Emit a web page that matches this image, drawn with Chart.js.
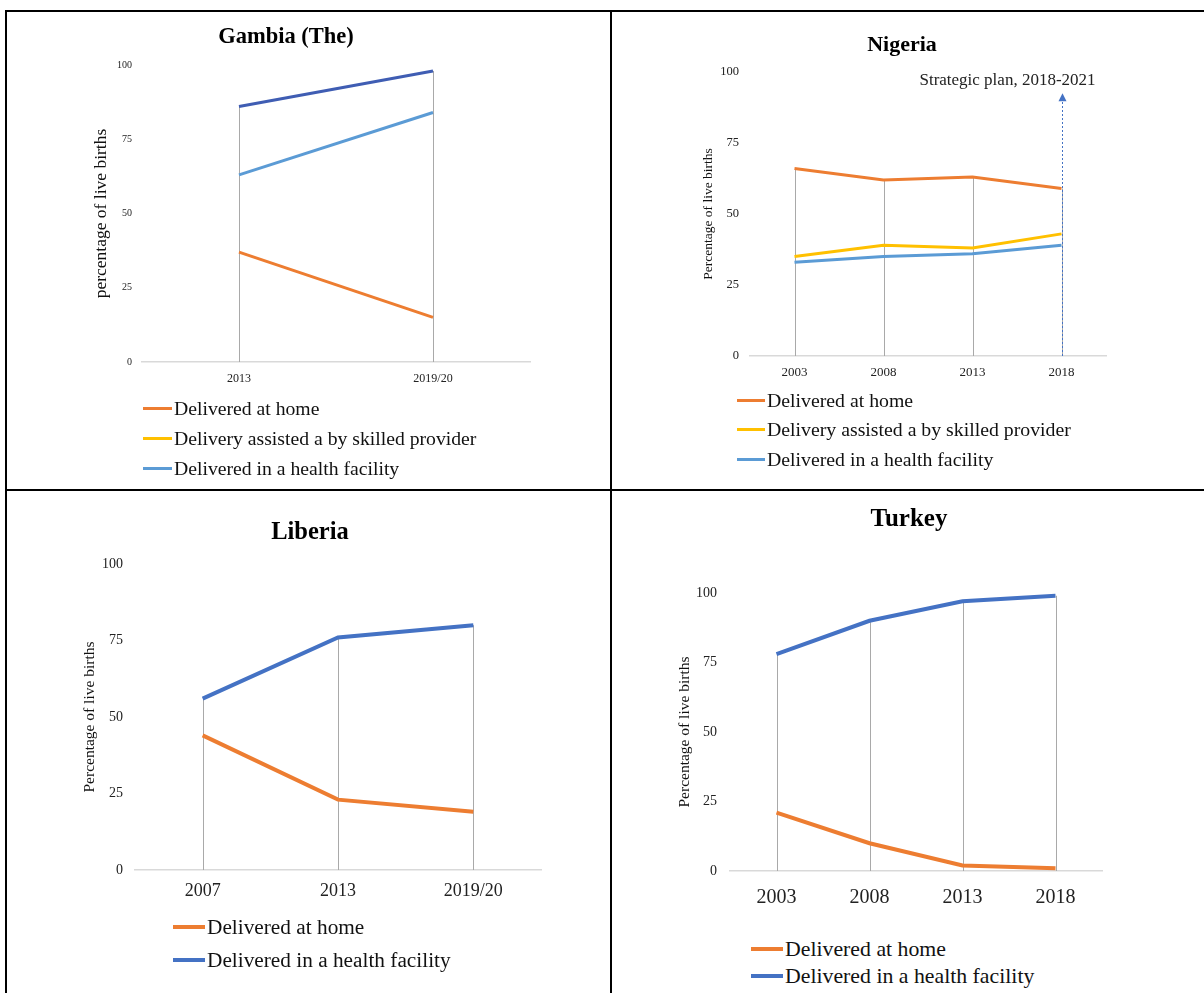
<!DOCTYPE html>
<html>
<head>
<meta charset="utf-8">
<title>Place of delivery</title>
<script src="https://cdn.jsdelivr.net/npm/chart.js@4.4.1/dist/chart.umd.min.js"></script>
<style>
  body { margin: 0; width: 1204px; height: 993px; background: #fff; position: relative; overflow: hidden;
         font-family: "Liberation Serif", "Times New Roman", serif; }
  .rule { position: absolute; background: #000; }
  canvas { position: absolute; }
  .legend { position: absolute; color: #111; white-space: nowrap; }
  .legend div { display: flex; align-items: center; }
  .legend span.swatch { display: inline-block; margin-right: 2px; }
</style>
</head>
<body>
<div class="rule" style="left:5px;top:10px;width:1199px;height:2px"></div>
<div class="rule" style="left:5px;top:10px;width:2px;height:983px"></div>
<div class="rule" style="left:610px;top:10px;width:2px;height:983px"></div>
<div class="rule" style="left:5px;top:489px;width:1199px;height:2px"></div>

<canvas id="gambia"></canvas>
<canvas id="nigeria"></canvas>
<canvas id="liberia"></canvas>
<canvas id="turkey"></canvas>
<div class="legend" id="gambia-legend"></div>
<div class="legend" id="nigeria-legend"></div>
<div class="legend" id="liberia-legend"></div>
<div class="legend" id="turkey-legend"></div>

<script>
// Data (percentage of live births)
const yTicks = [0, 25, 50, 75, 100];

const gambiaYears = ["2013", "2019/20"];
const gambiaHome = [37, 15];
const gambiaSkilled = [86, 98];
const gambiaFacility = [63, 84];

const nigeriaYears = ["2003", "2008", "2013", "2018"];
const nigeriaHome = [66, 62, 63, 59];
const nigeriaSkilled = [35, 39, 38, 43];
const nigeriaFacility = [33, 35, 36, 39];
const nigeriaPlanLabel = "Strategic plan, 2018-2021";
const nigeriaPlanYear = "2018";
const nigeriaPlanTop = 92.5;

const liberiaYears = ["2007", "2013", "2019/20"];
const liberiaHome = [44, 23, 19];
const liberiaFacility = [56, 76, 80];

const turkeyYears = ["2003", "2008", "2013", "2018"];
const turkeyHome = [21, 10, 2, 1];
const turkeyFacility = [78, 90, 97, 99];

const HOME = "Delivered at home";
const SKILLED = "Delivery assisted a by skilled provider";
const FACILITY = "Delivered in a health facility";

const ORANGE = "#ED7D31";
const YELLOW = "#FFC000";
const LIGHT_BLUE = "#5B9BD5";
const BLUE = "#4472C4";
const DARK_BLUE = "#3F5DB3";

const SERIF = "'Liberation Serif', 'Times New Roman', serif";
Chart.defaults.font.family = SERIF;

// vertical drop lines from the axis up to the highest series at each category
const dropLines = {
  id: "dropLines",
  beforeDatasetsDraw(chart) {
    const { ctx, scales: { x, y } } = chart;
    ctx.save();
    ctx.strokeStyle = "#A9A9A9";
    ctx.lineWidth = 1;
    chart.data.labels.forEach((lab, i) => {
      const top = Math.max(...chart.data.datasets.map((d) => d.data[i]));
      const px = Math.round(x.getPixelForValue(i)) + 0.5;
      ctx.beginPath();
      ctx.moveTo(px, y.getPixelForValue(0));
      ctx.lineTo(px, y.getPixelForValue(top));
      ctx.stroke();
    });
    ctx.restore();
  },
};

// dotted arrow + caption (Nigeria strategic plan)
const planMarker = {
  id: "planMarker",
  afterDatasetsDraw(chart, args, opts) {
    const { ctx, scales: { x, y } } = chart;
    const idx = chart.data.labels.indexOf(opts.year);
    if (idx < 0) return;
    const px = Math.round(x.getPixelForValue(idx)) + 0.5;
    const tip = y.getPixelForValue(opts.top);
    ctx.save();
    ctx.strokeStyle = opts.color;
    ctx.fillStyle = opts.color;
    ctx.lineWidth = 1;
    ctx.setLineDash([2, 2]);
    ctx.beginPath();
    ctx.moveTo(px, y.getPixelForValue(0));
    ctx.lineTo(px, tip + 8);
    ctx.stroke();
    ctx.setLineDash([]);
    ctx.beginPath();
    ctx.moveTo(px, tip);
    ctx.lineTo(px - 4, tip + 8);
    ctx.lineTo(px + 4, tip + 8);
    ctx.closePath();
    ctx.fill();
    ctx.fillStyle = "#222";
    ctx.font = "17px " + SERIF;
    ctx.textAlign = "center";
    ctx.textBaseline = "middle";
    ctx.fillText(opts.label, px - 55, tip - 13);
    ctx.restore();
  },
};

function buildChart(id, spec) {
  const a = spec.area;
  // y axis box must hold its tick labels (they are clipped to it)
  const yMinW = spec.yTickPad + 1.6 * spec.yTickSize + 2;
  const yBoxLeft = Math.min(2 * spec.titleX - a.r, a.l - yMinW);
  // spare box on the right keeps the title centred where the original has it
  const rightPad = 2 * spec.titleX - a.r - yBoxLeft;
  const boxLeft = Math.floor(Math.min(yBoxLeft, spec.yTitleX - spec.yTitleSize - 4));
  const padL = yBoxLeft - boxLeft;
  const boxTop = Math.floor(spec.titleY - 0.6 * spec.titleSize - 4);
  const padT = spec.titleY - 0.6 * spec.titleSize - boxTop;
  const xAxisH = 48;
  const boxW = Math.ceil(a.r + rightPad + 12 - boxLeft);
  const boxH = a.b + xAxisH - boxTop;

  const canvas = document.getElementById(id);
  canvas.width = boxW;
  canvas.height = boxH;
  canvas.style.left = boxLeft + "px";
  canvas.style.top = boxTop + "px";
  canvas.style.width = boxW + "px";
  canvas.style.height = boxH + "px";

  const scales = {
    x: {
      offset: true,
      grid: { display: false, drawTicks: false },
      border: { display: true, color: "#D9D9D9", width: 1.5 },
      ticks: {
        color: "#222",
        padding: spec.xTickPad,
        maxRotation: 0,
        autoSkip: false,
        font: { size: spec.xTickSize },
      },
      afterFit(scale) { scale.height = xAxisH; },
    },
    y: {
      min: 0,
      max: 100,
      afterBuildTicks(scale) { scale.ticks = yTicks.map((v) => ({ value: v })); },
      grid: { display: false, drawTicks: false },
      border: { display: false },
      ticks: { color: "#222", padding: spec.yTickPad, font: { size: spec.yTickSize } },
      title: {
        display: true,
        text: spec.yTitle,
        color: "#111",
        font: { size: spec.yTitleSize },
        padding: { top: spec.yTitleX - yBoxLeft - 0.6 * spec.yTitleSize, bottom: 0 },
      },
      afterFit(scale) { scale.width = a.l - yBoxLeft; },
    },
  };
  if (rightPad > 0) {
    scales.spare = {
      position: "right",
      grid: { display: false, drawTicks: false },
      border: { display: false },
      ticks: { display: false },
      afterFit(scale) { scale.width = rightPad; },
    };
  }

  const chart = new Chart(canvas, {
    type: "line",
    data: {
      labels: spec.labels,
      datasets: spec.series.map((s) => ({
        label: s.label,
        data: s.data,
        borderColor: s.color,
        backgroundColor: s.color,
        borderWidth: spec.lineWidth,
        pointRadius: 0,
        tension: 0,
        fill: false,
      })),
    },
    options: {
      responsive: false,
      animation: false,
      layout: { padding: { left: padL, right: boxLeft + boxW - a.r - rightPad, top: padT, bottom: 0 } },
      plugins: {
        legend: { display: false },
        tooltip: { enabled: false },
        title: {
          display: true,
          text: spec.title,
          color: "#000",
          font: { size: spec.titleSize, weight: "bold", family: SERIF },
          padding: { top: 0, bottom: a.t - spec.titleY - 0.6 * spec.titleSize },
        },
        planMarker: spec.plan || {},
      },
      scales: scales,
    },
    plugins: spec.plan ? [dropLines, planMarker] : [dropLines],
  });

  // legend, one entry per line, built from the same series list
  const lg = document.getElementById(id + "-legend");
  lg.style.left = spec.legend.x + "px";
  lg.style.top = spec.legend.y - spec.legend.step / 2 + "px";
  lg.style.fontSize = spec.legend.size + "px";
  spec.series.forEach((s) => {
    const row = document.createElement("div");
    row.style.height = spec.legend.step + "px";
    const sw = document.createElement("span");
    sw.className = "swatch";
    sw.style.width = spec.legend.swatch + "px";
    sw.style.height = spec.lineWidth + "px";
    sw.style.background = s.legendColor || s.color;
    const tx = document.createElement("span");
    tx.textContent = s.label;
    row.appendChild(sw);
    row.appendChild(tx);
    lg.appendChild(row);
  });
  return chart;
}

buildChart("gambia", {
  title: "Gambia (The)", titleX: 286, titleY: 37, titleSize: 22.5,
  area: { l: 142, r: 530, t: 65, b: 362 },
  labels: gambiaYears,
  series: [
    { label: HOME, data: gambiaHome, color: ORANGE },
    { label: SKILLED, data: gambiaSkilled, color: DARK_BLUE, legendColor: YELLOW },
    { label: FACILITY, data: gambiaFacility, color: LIGHT_BLUE },
  ],
  lineWidth: 3,
  yTitle: "percentage of live births", yTitleX: 101, yTitleSize: 17.5,
  yTickSize: 10, yTickPad: 10, xTickSize: 12, xTickPad: 9.5,
  legend: { x: 143, y: 408, step: 30, size: 19.7, swatch: 29 },
});

buildChart("nigeria", {
  title: "Nigeria", titleX: 902, titleY: 45, titleSize: 22,
  area: { l: 750, r: 1106, t: 72, b: 356 },
  labels: nigeriaYears,
  series: [
    { label: HOME, data: nigeriaHome, color: ORANGE },
    { label: SKILLED, data: nigeriaSkilled, color: YELLOW },
    { label: FACILITY, data: nigeriaFacility, color: LIGHT_BLUE },
  ],
  lineWidth: 3,
  yTitle: "Percentage of live births", yTitleX: 708, yTitleSize: 13.5,
  yTickSize: 12.5, yTickPad: 11, xTickSize: 13, xTickPad: 9,
  legend: { x: 737, y: 400, step: 29.5, size: 19.8, swatch: 28 },
  plan: { year: nigeriaPlanYear, top: nigeriaPlanTop, label: nigeriaPlanLabel, color: BLUE },
});

buildChart("liberia", {
  title: "Liberia", titleX: 310, titleY: 533, titleSize: 24.5,
  area: { l: 135, r: 541, t: 564, b: 870 },
  labels: liberiaYears,
  series: [
    { label: HOME, data: liberiaHome, color: ORANGE },
    { label: FACILITY, data: liberiaFacility, color: BLUE },
  ],
  lineWidth: 4,
  yTitle: "Percentage of live births", yTitleX: 90, yTitleSize: 15.5,
  yTickSize: 14, yTickPad: 12, xTickSize: 18, xTickPad: 10,
  legend: { x: 173, y: 927, step: 33, size: 21.3, swatch: 32 },
});

buildChart("turkey", {
  title: "Turkey", titleX: 909, titleY: 520, titleSize: 25,
  area: { l: 730, r: 1102, t: 593, b: 871 },
  labels: turkeyYears,
  series: [
    { label: HOME, data: turkeyHome, color: ORANGE },
    { label: FACILITY, data: turkeyFacility, color: BLUE },
  ],
  lineWidth: 4,
  yTitle: "Percentage of live births", yTitleX: 685, yTitleSize: 15.5,
  yTickSize: 14, yTickPad: 13, xTickSize: 20, xTickPad: 15,
  legend: { x: 751, y: 949, step: 27, size: 21.8, swatch: 32 },
});
</script>
</body>
</html>
